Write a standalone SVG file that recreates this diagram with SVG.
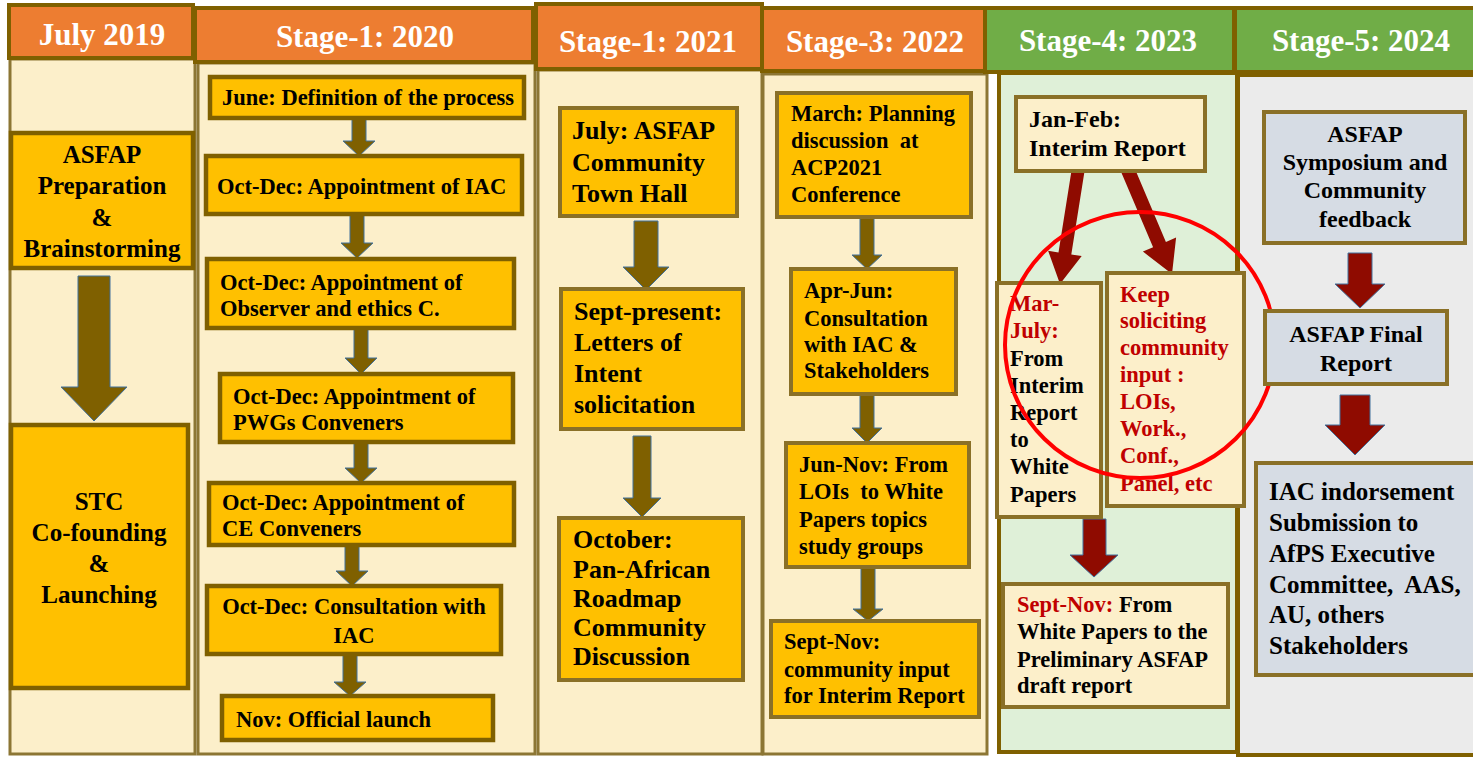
<svg xmlns="http://www.w3.org/2000/svg" width="1473" height="757" viewBox="0 0 1473 757">
<style>
text{font-family:"Liberation Serif","Times New Roman",serif;font-weight:bold;fill:#000}
.hd{fill:#ED7D31;stroke:#7F6000;stroke-width:4}
.hdg{fill:#70AD47;stroke:#7F6000;stroke-width:4}
.ht{font-size:31px;fill:#fff;text-anchor:middle}
.bc{fill:#FCEFCA;stroke:#8C7634;stroke-width:3}
.bg{fill:#DFF0D8;stroke:#7F6000;stroke-width:4}
.bgr{fill:#EBEBEB;stroke:#7F6000;stroke-width:4}
.am{fill:#FFC000;stroke:#7F6000;stroke-width:4.5}
.am2{fill:#FFC000;stroke:#8A7027;stroke-width:4}
.cr{fill:#FCEFCA;stroke:#8A7027;stroke-width:4}
.gy{fill:#D6DCE4;stroke:#8A7027;stroke-width:4}
.ar{fill:#7F6000;stroke:#41719C;stroke-width:1}
.rr{fill:#8F0B00;stroke:#41719C;stroke-width:1}
.rd{fill:#8F0B00}
.red{fill:#C00000}
.c{text-anchor:middle}
.f22{font-size:22.5px}
.f24{font-size:24px}
.f25{font-size:25px}
.f26{font-size:26px}
</style>
<rect width="1473" height="757" fill="#fff"/>
<g id="columns">
<rect class="bc" x="10" y="59" width="185" height="695"/>
<rect class="bc" x="198" y="63" width="337" height="691"/>
<rect class="bc" x="538" y="70" width="224" height="684"/>
<rect class="bc" x="763" y="74" width="224" height="680" stroke="#7F6000"/>
<rect class="bg" x="999" y="73" width="238" height="679"/>
<rect class="bgr" x="1238" y="75" width="240" height="680"/>
</g>
<g id="headers">
<g id="h2019"><rect class="hd" x="9" y="5" width="184" height="53"/><text class="ht" x="102" y="45">July 2019</text></g>
<g id="h2020"><rect class="hd" x="195" y="8" width="338" height="54"/><text class="ht" x="365" y="47">Stage-1: 2020</text></g>
<g id="h2021"><rect class="hd" x="536" y="4" width="226" height="65"/><text class="ht" x="648" y="52">Stage-1: 2021</text></g>
<g id="h2022"><rect class="hd" x="762" y="8" width="224" height="63"/><text class="ht" x="875" y="52">Stage-3: 2022</text></g>
<g id="h2023"><rect class="hdg" x="985" y="8" width="249" height="64"/><text class="ht" x="1108" y="51">Stage-4: 2023</text></g>
<g id="h2024"><rect class="hdg" x="1235" y="8" width="242" height="64"/><text class="ht" x="1361" y="51">Stage-5: 2024</text></g>
</g>
<g id="connectors">
<polygon class="ar" points="78,276 110,276 110,387 127,387 94,421 61,387 78,387"/>
<polygon class="ar" points="352,118 366,118 366,141 375,141 359,156 343,141 352,141"/>
<polygon class="ar" points="350,215 364,215 364,243 373,243 357,258 341,243 350,243"/>
<polygon class="ar" points="354,329 368,329 368,358 377,358 361,374 345,358 354,358"/>
<polygon class="ar" points="354,443 368,443 368,468 377,468 361,483 345,468 354,468"/>
<polygon class="ar" points="345,546 359,546 359,571 368,571 352,586 336,571 345,571"/>
<polygon class="ar" points="343,654 357,654 357,682 366,682 350,696 334,682 343,682"/>
<polygon class="ar" points="634,221 658,221 658,267 669,267 646,290 623,267 634,267"/>
<polygon class="ar" points="633,436 651,436 651,498 661,498 642,517 623,498 633,498"/>
<polygon class="ar" points="860,217 874,217 874,255 882,255 867,269 852,255 860,255"/>
<polygon class="ar" points="860,394 874,394 874,428 882,428 867,443 852,428 860,428"/>
<polygon class="ar" points="861,567 875,567 875,609 883,609 868,621 853,609 861,609"/>
<polygon class="rd" points="1071.6,170 1084.4,172 1071.3,254.4 1081.7,256.1 1060,284 1048.1,250.7 1058.5,252.4"/>
<polygon class="rd" points="1120.6,170.7 1133.4,165.3 1165.9,241.9 1176.1,237.6 1172,274 1142.9,251.6 1153.1,247.3"/>
<polygon class="rr" points="1083,519 1106,519 1106,555 1118,555 1094,577 1070,555 1083,555"/>
<polygon class="rr" points="1348,253 1372,253 1372,284 1385,284 1360,308 1335,284 1348,284"/>
<polygon class="rr" points="1340,395 1370,395 1370,425 1385,425 1355,455 1325,425 1340,425"/>
</g>
<g id="n-asfap-prep"><rect class="am" x="11" y="133" width="182" height="135"/>
<text class="f25 c" x="102"><tspan x="102" y="163">ASFAP</tspan><tspan x="102" y="194">Preparation</tspan><tspan x="102" y="226">&amp;</tspan><tspan x="102" y="257">Brainstorming</tspan></text></g>
<g id="n-stc"><rect class="am" x="11" y="425" width="177" height="263"/>
<text class="f25 c"><tspan x="99" y="510">STC</tspan><tspan x="99" y="541">Co-founding</tspan><tspan x="99" y="572">&amp;</tspan><tspan x="99" y="603">Launching</tspan></text></g>
<g id="n-june"><rect class="am" x="210" y="77" width="314" height="41"/><text class="f22" x="222" y="105">June: Definition of the process</text></g>
<g id="n-iac"><rect class="am" x="206" y="156" width="316" height="58"/><text class="f22" x="217" y="194">Oct-Dec: Appointment of IAC</text></g>
<g id="n-observer"><rect class="am" x="207" y="259" width="307" height="69"/><text class="f22"><tspan x="220" y="290">Oct-Dec: Appointment of</tspan><tspan x="220" y="316">Observer and ethics C.</tspan></text></g>
<g id="n-pwgs"><rect class="am" x="220" y="374" width="293" height="68"/><text class="f22"><tspan x="233" y="404">Oct-Dec: Appointment of</tspan><tspan x="233" y="430">PWGs Conveners</tspan></text></g>
<g id="n-ce"><rect class="am" x="209" y="483" width="305" height="62"/><text class="f22"><tspan x="222" y="510">Oct-Dec: Appointment of</tspan><tspan x="222" y="536">CE Conveners</tspan></text></g>
<g id="n-consult"><rect class="am" x="207" y="586" width="294" height="68"/><text class="f22 c"><tspan x="354" y="614">Oct-Dec: Consultation with</tspan><tspan x="354" y="643">IAC</tspan></text></g>
<g id="n-launch"><rect class="am" x="222" y="696" width="271" height="44"/><text class="f22" x="236" y="727">Nov: Official launch</text></g>
<g id="n-townhall"><rect class="am2" x="560" y="108" width="177" height="108"/><text class="f26"><tspan x="572" y="139">July: ASFAP</tspan><tspan x="572" y="171">Community</tspan><tspan x="572" y="202">Town Hall</tspan></text></g>
<g id="n-loi"><rect class="am2" x="561" y="289" width="182" height="140"/><text class="f26"><tspan x="574" y="320">Sept-present:</tspan><tspan x="574" y="351">Letters of</tspan><tspan x="574" y="382">Intent</tspan><tspan x="574" y="413">solicitation</tspan></text></g>
<g id="n-october"><rect class="am2" x="559" y="518" width="184" height="162"/><text class="f26"><tspan x="573" y="548">October:</tspan><tspan x="573" y="578">Pan-African</tspan><tspan x="573" y="607">Roadmap</tspan><tspan x="573" y="636">Community</tspan><tspan x="573" y="665">Discussion</tspan></text></g>
<g id="n-march"><rect class="am2" x="777" y="93" width="194" height="124"/><text class="f22" xml:space="preserve"><tspan x="791" y="121">March: Planning</tspan><tspan x="791" y="148">discussion  at</tspan><tspan x="791" y="175">ACP2021</tspan><tspan x="791" y="202">Conference</tspan></text></g>
<g id="n-aprjun"><rect class="am2" x="791" y="269" width="165" height="125"/><text class="f22"><tspan x="804" y="298">Apr-Jun:</tspan><tspan x="804" y="326">Consultation</tspan><tspan x="804" y="352">with IAC &amp;</tspan><tspan x="804" y="378">Stakeholders</tspan></text></g>
<g id="n-junnov"><rect class="am2" x="786" y="443" width="183" height="124"/><text class="f22" xml:space="preserve"><tspan x="799" y="472">Jun-Nov: From</tspan><tspan x="799" y="499">LOIs  to White</tspan><tspan x="799" y="527">Papers topics</tspan><tspan x="799" y="554">study groups</tspan></text></g>
<g id="n-septnov22"><rect class="am2" x="771" y="621" width="208" height="96"/><text class="f22"><tspan x="784" y="649">Sept-Nov:</tspan><tspan x="784" y="677">community input</tspan><tspan x="784" y="703">for Interim Report</tspan></text></g>
<g id="n-interim"><rect class="cr" x="1016" y="97" width="189" height="74"/><text class="f24"><tspan x="1029" y="127">Jan-Feb:</tspan><tspan x="1029" y="156">Interim Report</tspan></text></g>
<g id="n-marjuly"><rect class="cr" x="997" y="283" width="104" height="234"/><text class="f22"><tspan class="red" x="1010" y="311">Mar-</tspan><tspan class="red" x="1010" y="338">July:</tspan><tspan x="1010" y="366">From</tspan><tspan x="1010" y="393">Interim</tspan><tspan x="1010" y="420">Report</tspan><tspan x="1010" y="447">to</tspan><tspan x="1010" y="474">White</tspan><tspan x="1010" y="502">Papers</tspan></text></g>
<g id="n-keep"><rect class="cr" x="1107" y="273" width="137" height="233"/><text class="f22 red"><tspan x="1120" y="302">Keep</tspan><tspan x="1120" y="328">soliciting</tspan><tspan x="1120" y="355">community</tspan><tspan x="1120" y="382">input :</tspan><tspan x="1120" y="409">LOIs,</tspan><tspan x="1120" y="436">Work.,</tspan><tspan x="1120" y="463">Conf.,</tspan><tspan x="1120" y="491">Panel, etc</tspan></text></g>
<g id="n-septnov23"><rect class="cr" x="1003" y="584" width="225" height="123"/><text class="f22"><tspan x="1017" y="612"><tspan class="red">Sept-Nov:</tspan> From</tspan><tspan x="1017" y="639">White Papers to the</tspan><tspan x="1017" y="667">Preliminary ASFAP</tspan><tspan x="1017" y="693">draft report</tspan></text></g>
<ellipse id="highlight" cx="1140" cy="345" rx="135" ry="133" fill="none" stroke="#FF0000" stroke-width="4"/>
<g id="n-symposium"><rect class="gy" x="1264" y="112" width="201" height="131"/><text class="f24 c"><tspan x="1365" y="142">ASFAP</tspan><tspan x="1365" y="170">Symposium and</tspan><tspan x="1365" y="198">Community</tspan><tspan x="1365" y="227">feedback</tspan></text></g>
<g id="n-final"><rect class="gy" x="1265" y="311" width="182" height="73"/><text class="f24 c"><tspan x="1356" y="342">ASFAP Final</tspan><tspan x="1356" y="371">Report</tspan></text></g>
<g id="n-iacind"><rect class="gy" x="1256" y="463" width="230" height="212"/><text class="f25" xml:space="preserve"><tspan x="1269" y="500">IAC indorsement</tspan><tspan x="1269" y="531">Submission to</tspan><tspan x="1269" y="562">AfPS Executive</tspan><tspan x="1269" y="593">Committee,  AAS,</tspan><tspan x="1269" y="623">AU, others</tspan><tspan x="1269" y="654">Stakeholders</tspan></text></g>
</svg>
